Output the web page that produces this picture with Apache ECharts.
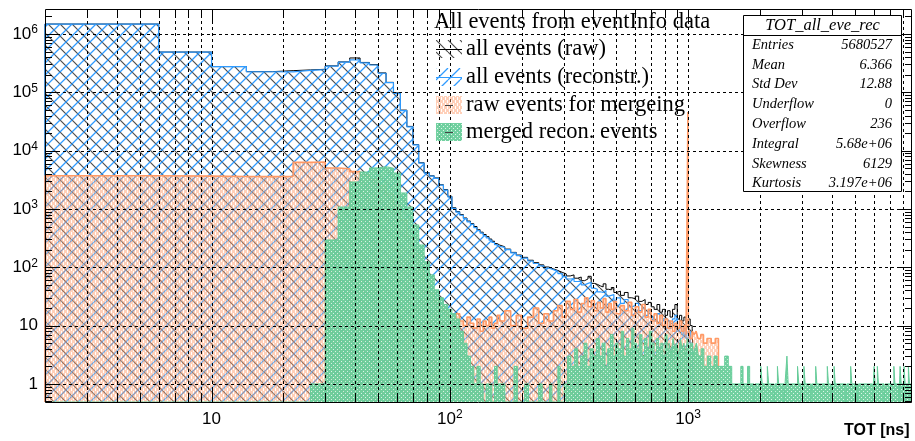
<!DOCTYPE html>
<html>
<head>
<meta charset="utf-8">
<script src="https://cdn.jsdelivr.net/npm/echarts@6/dist/echarts.min.js"></script>
<style>
  html, body { margin: 0; padding: 0; background: #fff; }
  #chart { width: 915px; height: 441px; }
</style>
</head>
<body>
<div id="chart"></div>
<script>
// ---- Histogram binning: 4 ns bins, first low edge at 2 ns ----
const BIN_FIRST_EDGE = 2;
const BIN_WIDTH = 4;

// Bin contents for the fine part of the spectrum (bins 2 ns .. 162 ns)
const rawAllCounts = [
  1.48e6, 4.9e5, 2.76e5, 2.26e5, 2.35e5, 2.42e5, 2.48e5, 2.84e5, 3.32e5, 3.88e5,
  3.25e5, 2.98e5, 2.15e5, 1.48e5, 9.8e4, 4.95e4, 2.6e4, 1.27e4, 6200, 4200,
  3700, 3400, 2600, 2150, 1650, 1050, 900, 800, 700, 620,
  560, 500, 440, 400, 365, 335, 305, 280, 255, 240
];
const recoAllCounts = [
  1.48e6, 4.9e5, 2.76e5, 2.25e5, 2.24e5, 2.38e5, 2.45e5, 2.8e5, 3.28e5, 3.59e5,
  3.19e5, 2.94e5, 2.12e5, 1.46e5, 9.6e4, 4.85e4, 2.55e4, 1.25e4, 6100, 4120,
  3640, 3340, 2560, 2100, 1610, 1020, 880, 780, 680, 600,
  545, 480, 425, 385, 350, 320, 292, 268, 244, 228
];
const rawMergeCounts = [
  3700, 3650, 3600, 3580, 3620, 6300, 6400, 5050, 4900, 4360,
  3830, 3200, 2500, 1800, 1150, 650, 340, 170, 90, 52,
  36, 27, 21, 18, 15, 13, 16, 12, 10, 14,
  11, 9, 13, 8, 12, 10, 14, 9, 11, 15
];
const mergedRecoCounts = [
  0, 0, 0, 0, 0, 0, 1, 294, 1080, 2900,
  4300, 5050, 5300, 5000, 4140, 1880, 1080, 532, 241, 124,
  74, 41, 30, 23, 19, 16, 13, 8, 5, 3,
  2, 1, 2, 1, 0, 1, 1, 0, 2, 1
];

// Above 162 ns: [low edge in ns, content] steps
const rawAllTail = [
  [162,225],[170,205],[180,180],[190,162],[200,148],[212,132],[224,120],[236,110],[248,101],[260,94],
  [272,88],[284,82],[296,77],[308,71],[320,74],[332,65],[344,68],[356,59],[368,63],[380,70],
  [392,53],[404,51],[416,48],[428,46],[440,52],[452,42],[464,41],[476,45],[488,37],[500,39],
  [520,33],[540,37],[560,30],[580,29],[600,32],[620,26],[640,28],[660,23],[680,25],[700,21],
  [720,19],[740,23],[760,17],[780,19],[800,15],[820,18],[840,14],[860,19],[880,23],[900,13],
  [920,15],[940,12],[960,14],[980,11],[1000,13],[1020,10],[1040,9],[1060,0]
];
const recoAllTail = [
  [162,220],[170,200],[180,176],[190,158],[200,144],[212,128],[224,116],[236,106],[248,97],[260,91],
  [272,85],[284,78],[296,70],[308,63],[320,64],[332,57],[344,58],[356,50],[368,53],[380,55],
  [392,44],[404,42],[416,38],[428,37],[440,40],[452,32],[464,33],[476,34],[488,27],[500,30],
  [520,24],[540,28],[560,21],[580,22],[600,24],[620,18],[640,20],[660,15],[680,18],[700,14],
  [720,12],[740,16],[760,11],[780,13],[800,9],[820,12],[840,9],[860,13],[880,15],[900,8],
  [920,10],[940,7],[960,9],[980,6],[1000,8],[1020,5],[1040,4],[1060,0]
];
const rawMergeTail = [
  [162,12],[170,18],[180,10],[190,15],[200,9],[212,14],[224,20],[236,11],[248,16],[260,12],
  [272,18],[284,22],[296,14],[308,26],[320,19],[332,28],[344,17],[356,24],[368,30],[380,21],
  [392,27],[404,18],[416,25],[428,20],[440,29],[452,17],[464,24],[476,19],[488,26],[500,16],
  [520,22],[540,18],[560,25],[580,15],[600,21],[620,17],[640,23],[660,14],[680,19],[700,12],
  [720,16],[740,11],[760,15],[780,10],[800,13],[820,9],[840,12],[860,8],[880,11],[900,9],
  [920,12],[940,8],[960,10],[980,7],[998,46000],[1002,9],[1020,6],[1040,8],[1060,7],[1080,8],
  [1100,6],[1130,7],[1160,5],[1200,6],[1250,5],[1300,6],[1340,0]
];
const mergedRecoTail = [
  [162,1],[170,0],[186,2],[192,0],[206,1],[214,0],[236,1],[244,0],[262,1],[268,0],
  [284,2],[290,0],[302,1],[312,3],[322,2],[334,4],[344,2],[354,3],[366,5],[376,2],
  [388,4],[400,3],[412,6],[424,3],[436,5],[448,2],[460,4],[472,7],[484,3],[496,5],
  [508,4],[524,8],[536,3],[552,6],[564,4],[580,9],[592,5],[608,4],[624,7],[640,3],
  [656,6],[672,4],[688,8],[704,5],[720,3],[736,6],[752,4],[768,5],[784,3],[800,7],
  [816,4],[832,5],[848,3],[864,6],[880,4],[896,5],[912,3],[928,6],[944,4],[960,5],
  [976,3],[992,6],[1008,4],[1024,5],[1044,3],[1064,4],[1084,5],[1104,3],[1134,4],[1164,2],
  [1204,3],[1244,2],[1284,3],[1324,2],[1374,2],[1424,3],[1474,2],[1524,1],[1664,2],[1700,1],
  [1776,2],[1812,1],[1890,0],[1910,1],[2018,2],[2046,1],[2150,2],[2178,1],[2294,0],[2318,1],
  [2370,2],[2398,1],[2526,0],[2550,1],[2598,3],[2630,1],[2878,2],[2914,1],[3062,2],[3098,1],
  [3270,0],[3302,1],[3430,2],[3470,1],[3838,2],[3882,1],[3966,0],[4010,1],[4098,2],[4142,1],
  [4586,0],[4638,1],[4810,2],[4862,1],[5134,0],[5190,1],[5930,0],[5990,1],[6030,2],[6094,1],
  [6226,2],[6290,1],[6638,0],[6706,1],[7302,2],[7378,1],[7674,0],[7754,2],[7838,1],[8058,2],
  [8142,1],[8402,2],[8490,1],[8700,1]
];

// Axis ranges
const X_MIN = 2, X_MAX = 8700;
const Y_MIN = 0.49, Y_MAX = 2.68e6;

// Legend and statistics box texts
const legendTitle = 'All events from eventInfo data';
const legendLabels = ['all events (raw)', 'all events (reconstr.)', 'raw events for mergeing', 'merged recon. events'];
const statsTitle = 'TOT_all_eve_rec';
const statsNames = ['Entries', 'Mean', 'Std Dev', 'Underflow', 'Overflow', 'Integral', 'Skewness', 'Kurtosis'];
const statsValues = ['5680527', '6.366', '12.88', '0', '236', '5.68e+06', '6129', '3.197e+06'];
const xAxisTitle = 'TOT [ns]';

// ---- fill patterns ----
function hatchTile(dir, color, size, width) {
  const c = document.createElement('canvas');
  c.width = size; c.height = size;
  const g = c.getContext('2d');
  g.strokeStyle = color; g.lineWidth = width;
  g.beginPath();
  for (const o of [-size, 0, size]) {
    if (dir === '/') { g.moveTo(o, size); g.lineTo(o + size, 0); }
    else { g.moveTo(o, 0); g.lineTo(o + size, size); }
  }
  g.stroke();
  return { image: c, repeat: 'repeat' };
}
function speckleTile(w, h, base, spot, spots) {
  const c = document.createElement('canvas');
  c.width = w; c.height = h;
  const g = c.getContext('2d');
  g.fillStyle = base; g.fillRect(0, 0, w, h);
  g.fillStyle = spot;
  spots.forEach(([x, y, sw, sh]) => { g.clearRect(x, y, sw, sh); g.fillRect(x, y, sw, sh); });
  return { image: c, repeat: 'repeat' };
}
const BLUE = '#2f9bff', ORANGE = '#ff9a66', GREEN = '#66cc99';
const rawHatch = hatchTile('\\', 'rgba(0,0,0,0.7)', 12, 1.2);
const recoHatch = hatchTile('/', BLUE, 12, 1.3);
const mergeFill = speckleTile(4, 6, 'rgba(255,150,100,0.45)', 'rgba(255,255,255,0.35)', [[1, 1, 1, 3], [3, 4, 1, 2], [3, 0, 1, 1]]);
const mergedFill = speckleTile(4, 4, 'rgba(102,204,153,0.93)', 'rgba(215,245,228,0.9)', [[1, 1, 1, 1], [3, 3, 1, 1]]);

function stepPoints(counts, tail) {
  const pts = [[BIN_FIRST_EDGE, Y_MIN]];
  counts.forEach((c, i) => pts.push([BIN_FIRST_EDGE + i * BIN_WIDTH, Math.max(c, Y_MIN)]));
  tail.forEach(([e, c]) => pts.push([e, Math.max(c, Y_MIN)]));
  return pts;
}
function histSeries(name, counts, tail, lineColor, lineWidth, fill, z) {
  return {
    name, type: 'line', step: 'end', data: stepPoints(counts, tail),
    symbol: 'none', showSymbol: false, silent: true, clip: true, z,
    lineStyle: { color: lineColor, width: lineWidth },
    areaStyle: { color: fill, opacity: 1, origin: 'start' }
  };
}

// Tick positions: every integer multiple of each decade
const MULTS = [1, 2, 3, 4, 5, 6, 7, 8, 9];
const xTicks = [], yTicks = [];
[1, 10, 100, 1000].forEach(d => MULTS.forEach(m => { const v = d * m; if (v > X_MIN && v < X_MAX) xTicks.push(v); }));
[0.1, 1, 10, 100, 1e3, 1e4, 1e5, 1e6].forEach(d => MULTS.forEach(m => { const v = d * m; if (v > Y_MIN && v < Y_MAX) yTicks.push(v); }));
const isDecade = v => Math.abs(Math.log10(v) - Math.round(Math.log10(v))) < 1e-6;

function powLabel(v) {
  const e = Math.log10(v), n = Math.round(e);
  if (Math.abs(e - n) > 1e-3) return '';
  if (n === 0) return '1';
  if (n === 1) return '10';
  return '10{sup|' + n + '}';
}
const labelStyle = {
  color: '#000', fontFamily: 'Liberation Sans', fontSize: 17, lineHeight: 20,
  formatter: powLabel, hideOverlap: false,
  rich: { sup: { fontFamily: 'Liberation Sans', fontSize: 12, lineHeight: 12, color: '#000', verticalAlign: 'top' } }
};

function renderFrame(params, api) {
  const cs = params.coordSys;
  const kind = api.value(2);
  const left = cs.x, top = cs.y, right = cs.x + cs.width, bottom = cs.y + cs.height;
  const solid = { stroke: '#000', lineWidth: 1, fill: null };
  const dash = { stroke: '#000', lineWidth: 1, lineDash: [3, 3], fill: null };
  const kids = [];
  if (params.dataIndex === 0) {
    kids.push({ type: 'rect', shape: { x: left + 0.5, y: top + 0.5, width: cs.width - 1, height: cs.height }, style: solid });
  }
  if (kind === 0) {
    const v = api.value(0);
    const x = Math.round(api.coord([v, Y_MIN])[0]) + 0.5;
    const len = isDecade(v) ? 12 : 6;
    kids.push({ type: 'line', shape: { x1: x, y1: top, x2: x, y2: bottom }, style: dash });
    kids.push({ type: 'line', shape: { x1: x, y1: bottom, x2: x, y2: bottom - len }, style: solid });
    kids.push({ type: 'line', shape: { x1: x, y1: top, x2: x, y2: top + len }, style: solid });
  } else {
    const v = api.value(1);
    const y = Math.round(api.coord([X_MIN, v])[1]) + 0.5;
    const major = isDecade(v);
    const len = major ? 13 : 7;
    if (major) kids.push({ type: 'line', shape: { x1: left, y1: y, x2: right, y2: y }, style: dash });
    kids.push({ type: 'line', shape: { x1: left, y1: y, x2: left + len, y2: y }, style: solid });
    kids.push({ type: 'line', shape: { x1: right, y1: y, x2: right - len, y2: y }, style: solid });
  }
  return { type: 'group', children: kids };
}
const frameData = xTicks.map(v => [v, Y_MIN, 0]).concat(yTicks.map(v => [X_MIN, v, 1]));

// ---- legend & statistics box drawn as overlay graphics ----
const legendFills = [rawHatch, recoHatch, mergeFill, mergedFill];
const legendLines = ['#000', BLUE, '#444', '#444'];
const legendRows = [49, 77, 105, 132];
const serif = '"Liberation Serif", "DejaVu Serif", serif';
const graphics = [];
graphics.push({ type: 'text', x: 434, y: 22, z: 100, style: { text: legendTitle, font: '22.5px ' + serif, fill: '#000', verticalAlign: 'middle', align: 'left' } });
legendLabels.forEach((lab, i) => {
  const cy = legendRows[i];
  graphics.push({ type: 'rect', x: 436, y: cy - 9, z: 100, shape: { width: 26, height: 18 }, style: { fill: legendFills[i], stroke: null } });
  const full = i < 2;
  graphics.push({ type: 'line', z: 101, shape: { x1: full ? 436 : 445, y1: cy + 0.5, x2: full ? 462 : 453, y2: cy + 0.5 }, style: { stroke: legendLines[i], lineWidth: 1 } });
  graphics.push({ type: 'text', x: 466, y: cy, z: 100, style: { text: lab, font: '22.5px ' + serif, fill: '#000', verticalAlign: 'middle', align: 'left' } });
});
graphics.push({ type: 'rect', z: 110, shape: { x: 743.5, y: 15.5, width: 158, height: 176 }, style: { fill: '#fff', stroke: '#000', lineWidth: 1 } });
graphics.push({ type: 'line', z: 111, shape: { x1: 743.5, y1: 35.5, x2: 901.5, y2: 35.5 }, style: { stroke: '#000', lineWidth: 1 } });
graphics.push({ type: 'text', x: 822.5, y: 26, z: 112, style: { text: statsTitle, font: 'italic 16.5px ' + serif, fill: '#000', align: 'center', verticalAlign: 'middle' } });
statsNames.forEach((nm, i) => {
  const cy = 45 + i * 19.8;
  graphics.push({ type: 'text', x: 752, y: cy, z: 112, style: { text: nm, font: 'italic 14.5px ' + serif, fill: '#000', align: 'left', verticalAlign: 'middle' } });
  graphics.push({ type: 'text', x: 892, y: cy, z: 112, style: { text: statsValues[i], font: 'italic 14.5px ' + serif, fill: '#000', align: 'right', verticalAlign: 'middle' } });
});
graphics.push({ type: 'text', x: 844, y: 431, z: 100, style: { text: xAxisTitle, font: 'bold 16px "Liberation Sans", Arial, sans-serif', fill: '#000', align: 'left', verticalAlign: 'middle' } });

const chart = echarts.init(document.getElementById('chart'), null, { renderer: 'canvas' });
chart.setOption({
  animation: false,
  backgroundColor: '#fff',
  grid: { left: 45, top: 9, right: 1, bottom: 39, show: false },
  xAxis: {
    type: 'log', logBase: 10, min: X_MIN, max: X_MAX,
    axisLine: { show: false }, axisTick: { show: false }, splitLine: { show: false }, minorTick: { show: false },
    axisLabel: Object.assign({ margin: 7 }, labelStyle)
  },
  yAxis: {
    type: 'log', logBase: 10, min: Y_MIN, max: Y_MAX,
    axisLine: { show: false }, axisTick: { show: false }, splitLine: { show: false }, minorTick: { show: false },
    axisLabel: Object.assign({ margin: 7 }, labelStyle)
  },
  series: [
    histSeries('all events (raw)', rawAllCounts, rawAllTail, '#000', 1, rawHatch, 2),
    histSeries('all events (reconstr.)', recoAllCounts, recoAllTail, BLUE, 1.2, recoHatch, 3),
    histSeries('raw events for mergeing', rawMergeCounts, rawMergeTail, ORANGE, 1.6, mergeFill, 4),
    histSeries('merged recon. events', mergedRecoCounts, mergedRecoTail, GREEN, 1, mergedFill, 5),
    {
      type: 'custom', coordinateSystem: 'cartesian2d', silent: true, clip: false, z: 20,
      data: frameData, encode: { x: 0, y: 1 }, renderItem: renderFrame
    }
  ],
  graphic: graphics
});
</script>
</body>
</html>
